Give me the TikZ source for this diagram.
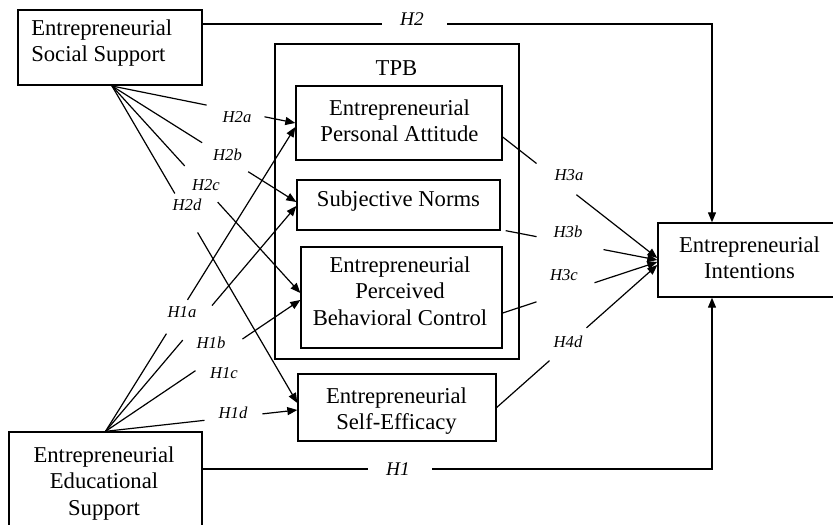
\documentclass[tikz,border=0pt]{standalone}
\usepackage{fontspec}
\setmainfont{Liberation Serif}
\usetikzlibrary{arrows.meta,calc}
\begin{document}
\begin{tikzpicture}[x=0.75pt,y=-0.75pt,
  boxnode/.style={draw, line width=1pt, inner sep=0pt},
  txt/.style={inner sep=0pt, font=\fontsize{17}{20}\selectfont},
  hyp/.style={inner sep=0pt, font=\fontsize{12.5}{14}\selectfont\itshape},
  hypbig/.style={inner sep=0pt, font=\fontsize{14.5}{16}\selectfont\itshape},
  conn/.style={line width=0.9pt},
  arr/.style={conn, -{Triangle[length=7.5pt,width=6pt]}}]
\useasboundingbox (0,0) rectangle (833,525);
\clip (0,0) rectangle (833,525);

% boxes
\node[boxnode, minimum width=138pt, minimum height=56.25pt] (ess) at (110,47.5) {};
\node[boxnode, minimum width=183pt, minimum height=236.25pt] (tpb) at (397,201.5) {};
\node[boxnode, minimum width=154.5pt, minimum height=55.5pt] (epa) at (399,123) {};
\node[boxnode, minimum width=152.25pt, minimum height=37.5pt] (sn) at (398.5,205) {};
\node[boxnode, minimum width=150.75pt, minimum height=75.75pt] (epbc) at (401.5,297.5) {};
\node[boxnode, minimum width=148.5pt, minimum height=50.25pt] (ese) at (397,407.5) {};
\node[boxnode, minimum width=137.25pt, minimum height=55.5pt] (ei) at (749.5,260) {};
\node[boxnode, minimum width=144.75pt, minimum height=84.75pt] (ees) at (105.5,488.5) {};

% texts
\node[txt, anchor=base west] (esst) at (31,35) {\begin{tabular}[t]{@{}l@{}}Entrepreneurial\\Social Support\end{tabular}};
\node[txt, anchor=base] (tpbt) at (396.5,75) {TPB};
\node[txt, anchor=base] (epat) at (399.5,115) {\begin{tabular}[t]{@{}c@{}}Entrepreneurial\\Personal Attitude\end{tabular}};
\node[txt, anchor=base] (snt) at (398.5,206) {Subjective Norms};
\node[txt, anchor=base] (epbct) at (400,272) {\begin{tabular}[t]{@{}c@{}}Entrepreneurial\\Perceived\\Behavioral Control\end{tabular}};
\node[txt, anchor=base] (eset) at (396.5,403) {\begin{tabular}[t]{@{}c@{}}Entrepreneurial\\Self-Efficacy\end{tabular}};
\node[txt, anchor=base] (eit) at (749.5,252) {\begin{tabular}[t]{@{}c@{}}Entrepreneurial\\Intentions\end{tabular}};
\node[txt, anchor=base] (eest) at (104,462) {\begin{tabular}[t]{@{}c@{}}Entrepreneurial\\Educational\\Support\end{tabular}};

% fan origins and targets
\coordinate (fs) at (112,86);
\coordinate (fe) at (ees.north);
\coordinate (tA2) at (epa.west);
\coordinate (tA1) at ($(epa.west)+(0,4)$);
\coordinate (tB2) at ($(sn.west)+(0,-3)$);
\coordinate (tB1) at ($(sn.west)+(0,1)$);
\coordinate (tC2) at ($(epbc.west)+(0,-4.5)$);
\coordinate (tC1) at ($(epbc.west)+(0,2.5)$);
\coordinate (tD2) at ($(ese.west)+(0,-4.5)$);
\coordinate (tD1) at ($(ese.west)+(0,2.5)$);

% H2a-d
\draw[conn] (fs) -- ($(fs)!0.516!(tA2)$);
\draw[arr] ($(fs)!0.832!(tA2)$) -- (tA2);
\draw[conn] (fs) -- ($(fs)!0.489!(tB2)$);
\draw[arr] ($(fs)!0.739!(tB2)$) -- (tB2);
\draw[conn] (fs) -- ($(fs)!0.386!(tC2)$);
\draw[arr] ($(fs)!0.561!(tC2)$) -- (tC2);
\draw[conn] (fs) -- ($(fs)!0.339!(tD2)$);
\draw[arr] ($(fs)!0.462!(tD2)$) -- (tD2);
% H1a-d
\draw[conn] (fe) -- ($(fe)!0.321!(tA1)$);
\draw[arr] ($(fe)!0.432!(tA1)$) -- (tA1);
\draw[conn] (fe) -- ($(fe)!0.405!(tB1)$);
\draw[arr] ($(fe)!0.558!(tB1)$) -- (tB1);
\draw[conn] (fe) -- ($(fe)!0.462!(tC1)$);
\draw[arr] ($(fe)!0.703!(tC1)$) -- (tC1);
\draw[conn] (fe) -- ($(fe)!0.516!(tD1)$);
\draw[arr] ($(fe)!0.818!(tD1)$) -- (tD1);

\node[hyp] (l2a) at (237,117) {H2a};
\node[hyp] (l2b) at (227.5,155) {H2b};
\node[hyp] (l2c) at (206,185) {H2c};
\node[hyp] (l2d) at (187,205) {H2d};
\node[hyp] (l1a) at (182,312) {H1a};
\node[hyp] (l1b) at (211,343) {H1b};
\node[hyp] (l1c) at (224,373) {H1c};
\node[hyp] (l1d) at (233,413) {H1d};

% H3 / H4 to intentions
\coordinate (sA) at ($(epa.east)+(0,14)$);
\coordinate (sB) at ($(sn.south east)+(5,0)$);
\coordinate (sC) at ($(epbc.east)+(0,15.5)$);
\coordinate (sD) at (ese.east);
\coordinate (tI1) at ($(ei.west)+(0,-2)$);
\coordinate (tI2) at (ei.west);
\coordinate (tI3) at ($(ei.west)+(0,2)$);
\coordinate (tI4) at ($(ei.west)+(0,5)$);
\draw[conn] (sA) -- ($(sA)!0.219!(tI1)$);
\draw[arr] ($(sA)!0.477!(tI1)$) -- (tI1);
\draw[conn] (sB) -- ($(sB)!0.204!(tI2)$);
\draw[arr] ($(sB)!0.645!(tI2)$) -- (tI2);
\draw[conn] (sC) -- ($(sC)!0.219!(tI3)$);
\draw[arr] ($(sC)!0.594!(tI3)$) -- (tI3);
\draw[conn] (sD) -- ($(sD)!0.329!(tI4)$);
\draw[arr] ($(sD)!0.559!(tI4)$) -- (tI4);

\node[hyp] (l3a) at (569,175) {H3a};
\node[hyp] (l3b) at (568,232) {H3b};
\node[hyp] (l3c) at (564,275) {H3c};
\node[hyp] (l4d) at (568,342) {H4d};

% H2 and H1 direct paths
\coordinate (h2l) at (382,24);
\coordinate (h2r) at (447,24);
\coordinate (h2c) at (712,24);
\draw[conn] (ess.east |- h2l) -- (h2l);
\draw[arr] (h2r) -- (h2c) -- (h2c |- ei.north);
\node[hypbig] (lh2) at (412,19) {H2};

\coordinate (h1l) at (368,469);
\coordinate (h1r) at (432,469);
\coordinate (h1c) at (712,469);
\draw[conn] (ees.east |- h1l) -- (h1l);
\draw[arr] (h1r) -- (h1c) -- (h1c |- ei.south);
\node[hypbig] (lh1) at (398,469) {H1};
\end{tikzpicture}
\end{document}
